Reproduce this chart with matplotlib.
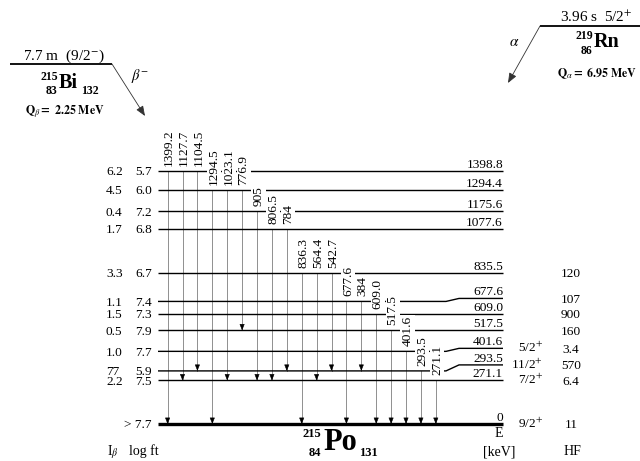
import matplotlib
matplotlib.use('Agg')
import matplotlib.pyplot as plt
import matplotlib.transforms as mtransforms

plt.rcParams['font.family'] = ['Liberation Serif', 'DejaVu Serif']
plt.rcParams['mathtext.fontset'] = 'stix'

# ---------------- data ----------------
level_energy = [0, 271.1, 293.5, 401.6, 517.5, 609.0, 677.6, 835.5, 1077.6, 1175.6, 1294.4, 1398.8]
level_label = ['0', '271.1', '293.5', '401.6', '517.5', '609.0', '677.6', '835.5',
               '1077.6', '1175.6', '1294.4', '1398.8']
beta_intensity = ['', '2.2', '77', '1.0', '0.5', '1.5', '1.1', '3.3', '1.7', '0.4', '4.5', '6.2']
log_ft = ['> 7.7', '7.5', '5.9', '7.7', '7.9', '7.3', '7.4', '6.7', '6.8', '7.2', '6.0', '5.7']
spin_parity = ['9/2$^{+}$', '7/2$^{+}$', '11/2$^{+}$', '5/2$^{+}$', '', '', '', '', '', '', '', '']
hindrance = ['11', '6.4', '570', '3.4', '160', '900', '107', '120', '', '', '', '']

gamma_label = ['1399.2', '1127.7', '1104.5', '1294.5', '1023.1', '776.9', '905', '806.5', '784',
               '836.3', '564.4', '542.7', '677.6', '384', '609.0', '517.5', '401.6', '293.5', '271.1']
gamma_from = [1398.8, 1398.8, 1398.8, 1294.4, 1294.4, 1294.4, 1175.6, 1077.6, 1077.6,
              835.5, 835.5, 835.5, 677.6, 677.6, 609.0, 517.5, 401.6, 293.5, 271.1]
gamma_to = [0, 271.1, 293.5, 0, 271.1, 517.5, 271.1, 271.1, 293.5,
            0, 271.1, 293.5, 0, 293.5, 0, 0, 0, 0, 0]

# ---------------- layout ----------------
W, H = 640, 461
fig = plt.figure(figsize=(W / 100, H / 100), dpi=100)
ax = fig.add_axes([0, 0, 1, 1])
ax.axis('off')
ax.set_xlim(0, W)
E_BOT, E_TOP = -204.6, 2344.2
ax.set_ylim(E_BOT, E_TOP)
ppk = H / (E_TOP - E_BOT)          # pixels per keV

X0, X1 = 158, 503                   # level line extent
KINK1, KINK2 = 446, 459
shift_all = {271.1: -5.5}           # pixel shifts of drawn levels
shift_right = {677.6: 3, 401.6: 3, 293.5: 6}
GX0, GDX = 167.6, 14.9              # gamma column placement

def y_left(E):
    return E + shift_all.get(E, 0) / ppk

def y_right(E):
    return y_left(E) + shift_right.get(E, 0) / ppk

def off(dx, dy):
    return mtransforms.offset_copy(ax.transData, fig=fig, x=dx, y=dy, units='dots')

FS = 9.6
# level lines
for E in level_energy:
    yl, yr = y_left(E), y_right(E)
    lw = 2.4 if E == 0 else 1.0
    if E in shift_right:
        ax.plot([X0, KINK1, KINK2, X1], [yl, yl, yr, yr], color='black', lw=lw, zorder=2,
                solid_capstyle='butt')
    else:
        ax.plot([X0, X1], [yl, yl], color='black', lw=lw, zorder=2, solid_capstyle='butt')

# level annotations
for E, lab, ib, lf, sp, hf in zip(level_energy, level_label, beta_intensity, log_ft,
                                   spin_parity, hindrance):
    yl, yr = y_left(E), y_right(E)
    if ib:
        ax.text(106, yl, ib, transform=off(0, -4.4), ha='left', va='baseline', fontsize=FS)
    ax.text(152, yl, lf, transform=off(0, -4.4), ha='right', va='baseline', fontsize=FS)
    ax.text(X1, yr, lab, transform=off(0, 3), ha='right', va='baseline', fontsize=FS)
    if sp:
        ax.text(543, yr, sp, transform=off(0, -3.8), ha='right', va='baseline', fontsize=FS)
    if hf:
        ax.text(571, yr, hf, transform=off(0, -4.4), ha='center', va='baseline', fontsize=FS)

# gamma transitions
for i, (lab, Ef, Et) in enumerate(zip(gamma_label, gamma_from, gamma_to)):
    x = GX0 + GDX * i
    yf, yt = y_left(Ef), y_left(Et)
    ax.plot([x, x], [yf, yt], color='#8f8f8f', lw=0.7, zorder=1)
    ax.annotate('', xy=(x, yt), xytext=(0, 5), textcoords='offset pixels',
                arrowprops=dict(arrowstyle='-|>,head_length=0.55,head_width=0.22',
                                color='black', lw=0.4, shrinkA=0, shrinkB=0,
                                mutation_scale=7), zorder=3)
    ax.text(x, yf, lab, transform=off(1.5, 5), rotation=90, ha='center', va='bottom',
            fontsize=FS, zorder=4,
            bbox=dict(facecolor='white', edgecolor='none', pad=0.8))

# ---------------- overlay (pixel coordinates) ----------------
ov = fig.add_axes([0, 0, 1, 1])
ov.axis('off')
ov.set_xlim(0, W)
ov.set_ylim(H, 0)

# parent 215Bi
ov.plot([10, 112], [64, 64], color='black', lw=1.3, solid_capstyle='butt')
ov.text(64, 60, '7.7 m  (9/2$^{-}$)', ha='center', va='baseline', fontsize=11)
ov.text(58, 80, '215', ha='right', va='baseline', fontsize=8.5, weight='bold')
ov.text(57, 94, '83', ha='right', va='baseline', fontsize=8.5, weight='bold')
ov.text(58.5, 88, 'Bi', ha='left', va='baseline', fontsize=14.5, weight='bold')
ov.text(81, 94, '132', ha='left', va='baseline', fontsize=8.5, weight='bold')
ov.text(25, 115, r'$\mathbf{Q}_{\beta}\mathbf{=\ 2.25\ MeV}$', ha='left',
        va='baseline', fontsize=8.6)
ov.annotate('', xy=(145, 116), xytext=(112, 64),
            arrowprops=dict(arrowstyle='-|>,head_length=0.5,head_width=0.2', color='#333333',
                            lw=0.6, shrinkA=0, shrinkB=0, mutation_scale=12))
ov.text(140, 80, r'$\beta^{-}$', ha='center', va='baseline', fontsize=10.5)

# parent 219Rn
ov.plot([540, 640], [26, 26], color='black', lw=1.3, solid_capstyle='butt')
ov.text(596, 22, '3.96 s  5/2$^{+}$', ha='center', va='baseline', fontsize=11)
ov.text(593, 39, '219', ha='right', va='baseline', fontsize=8.5, weight='bold')
ov.text(592, 54, '86', ha='right', va='baseline', fontsize=8.5, weight='bold')
ov.text(593.5, 47, 'Rn', ha='left', va='baseline', fontsize=14.5, weight='bold')
ov.text(637, 77, r'$\mathbf{Q}_{\alpha}\mathbf{=\ 6.95\ MeV}$', ha='right',
        va='baseline', fontsize=8.6)
ov.annotate('', xy=(508, 83), xytext=(540, 26),
            arrowprops=dict(arrowstyle='-|>,head_length=0.5,head_width=0.2', color='#333333',
                            lw=0.6, shrinkA=0, shrinkB=0, mutation_scale=12))
ov.text(514, 46, r'$\alpha$', ha='center', va='baseline', fontsize=11)

# daughter 215Po and column headings
ov.text(321, 437, '215', ha='right', va='baseline', fontsize=9, weight='bold')
ov.text(321, 456, '84', ha='right', va='baseline', fontsize=9, weight='bold')
ov.text(323, 450, 'Po', ha='left', va='baseline', fontsize=22, weight='bold')
ov.text(359, 456, '131', ha='left', va='baseline', fontsize=9, weight='bold')
ov.text(503, 437, 'E', ha='right', va='baseline', fontsize=10)
ov.text(499, 455, '[keV]', ha='center', va='baseline', fontsize=10)
ov.text(572, 455, 'HF', ha='center', va='baseline', fontsize=10)
ov.text(107, 455, r'I$_{\beta}$', ha='left', va='baseline', fontsize=10)
ov.text(129, 455, 'log ft', ha='left', va='baseline', fontsize=10)

fig.savefig('out.png', dpi=100)
